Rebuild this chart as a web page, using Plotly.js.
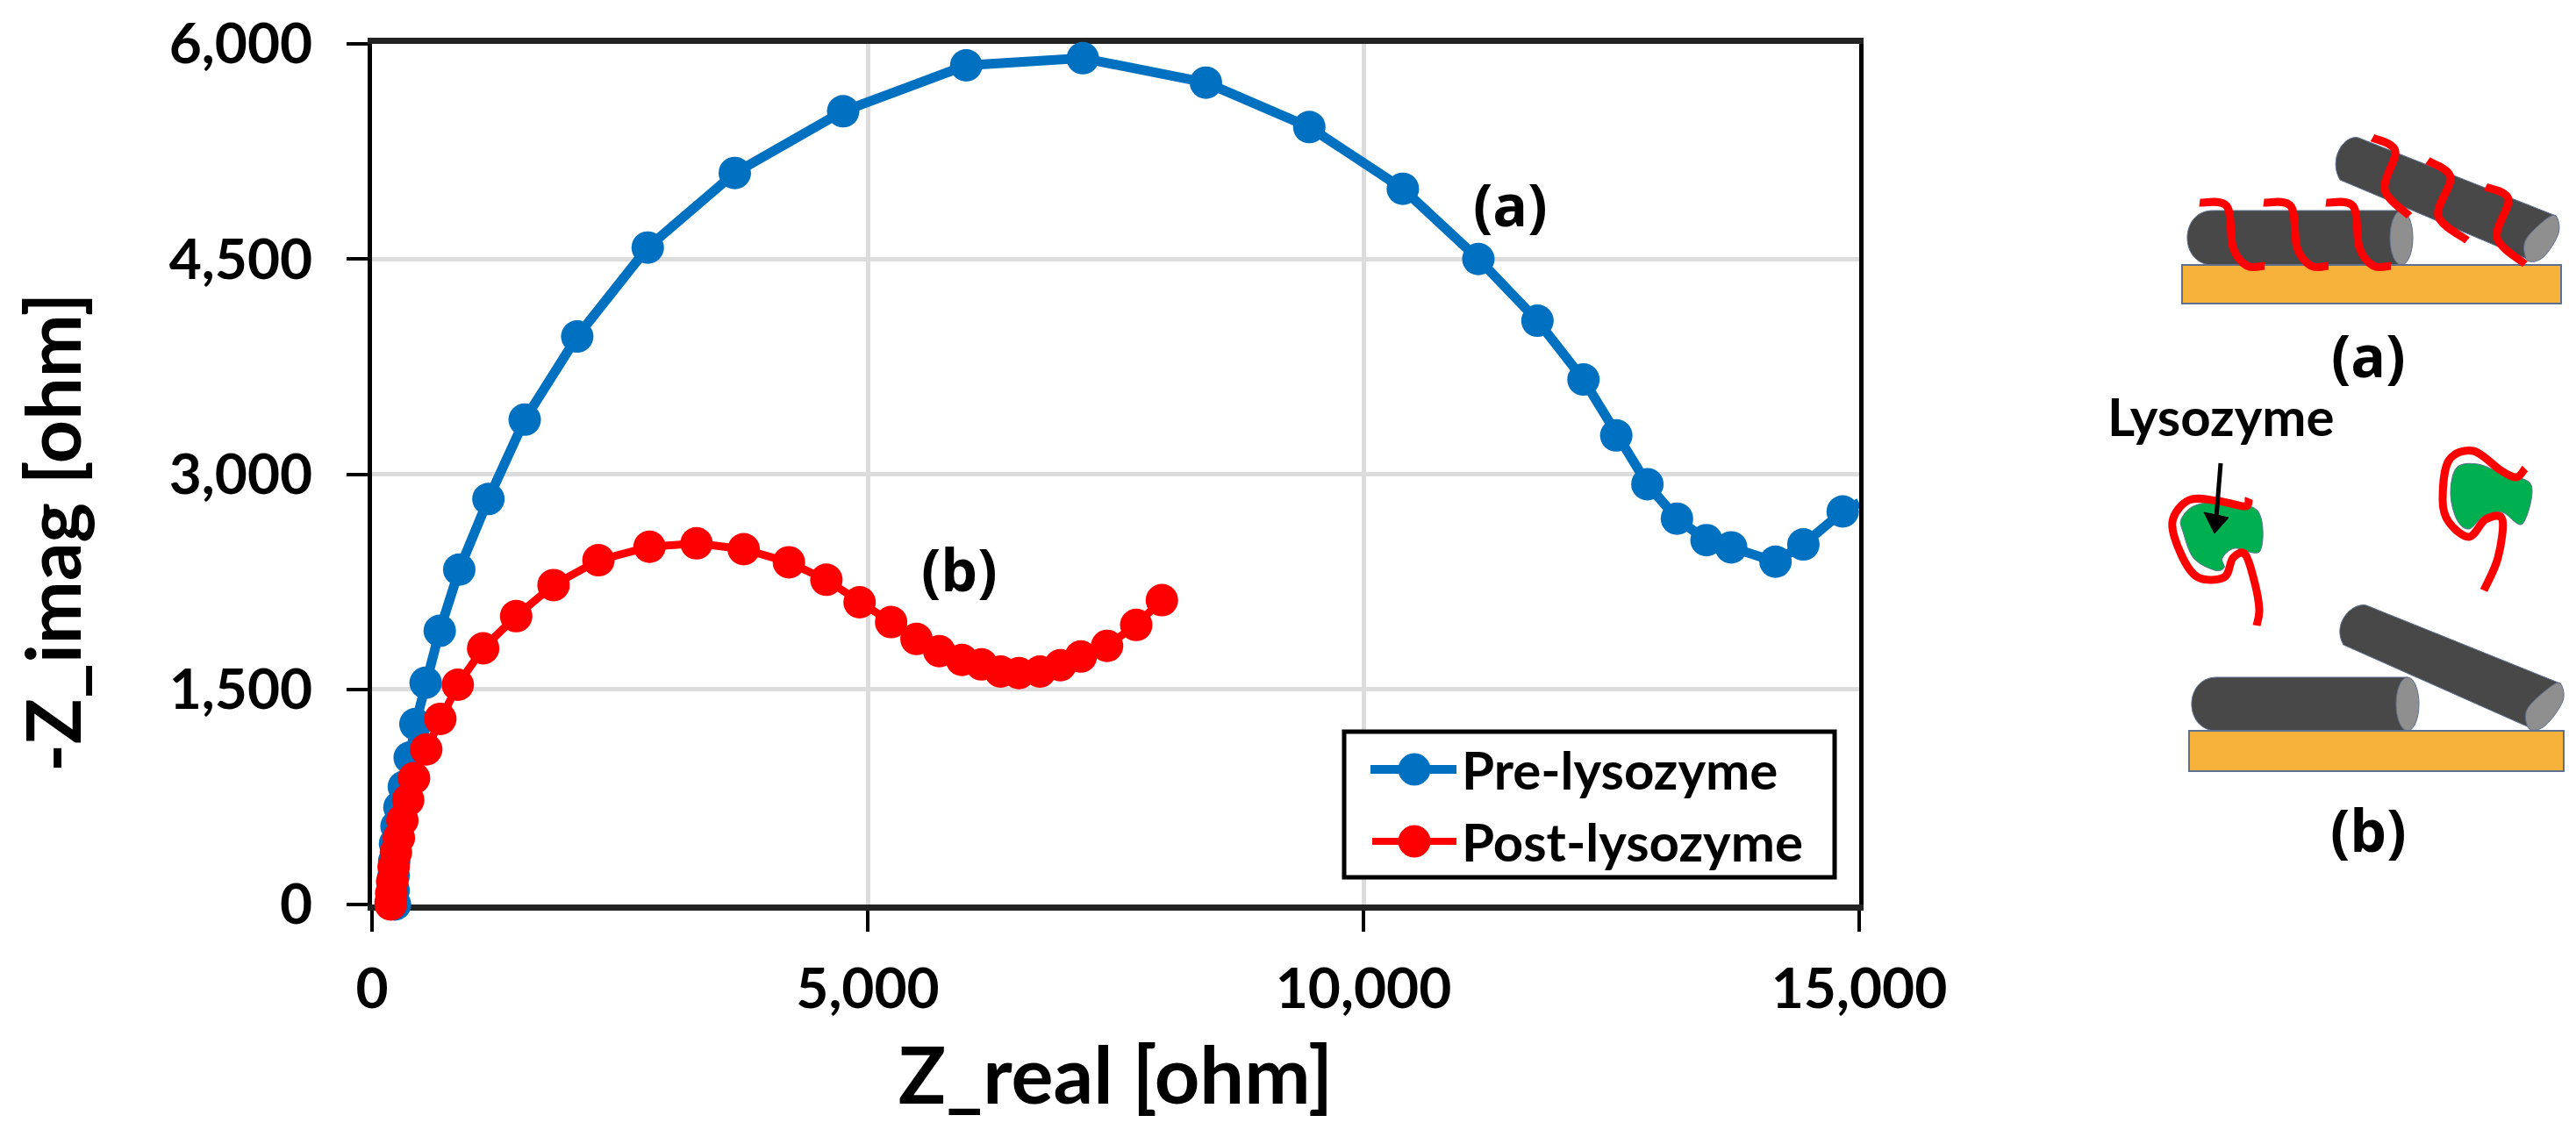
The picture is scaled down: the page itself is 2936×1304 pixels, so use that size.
<!DOCTYPE html>
<html>
<head>
<meta charset="utf-8">
<script src="https://cdn.plot.ly/plotly-3.0.1.min.js"></script>
<style>
  html, body { margin: 0; padding: 0; background: #fff; }
  #chart { width: 2936px; height: 1304px; }
</style>
</head>
<body>
<div id="chart"></div>
<script>
const preReal = [232, 218, 218, 218, 224, 232, 247, 277, 321, 380, 438, 541, 683, 880, 1174, 1540, 2070, 2781, 3659, 4752, 5993, 7169, 8411, 9454, 10397, 11159, 11755, 12219, 12550, 12864, 13162, 13460, 13709, 14156, 14437, 14834, 15000];
const preImag = [0, 17, 99, 200, 302, 424, 546, 678, 821, 1024, 1258, 1546, 1908, 2335, 2827, 3380, 3960, 4580, 5100, 5530, 5850, 5900, 5730, 5420, 4990, 4500, 4070, 3660, 3270, 2930, 2690, 2540, 2490, 2390, 2510, 2740, 2800];

const postReal = [188, 188, 194, 203, 218, 241, 271, 306, 365, 424, 547, 689, 865, 1121, 1454, 1831, 2284, 2799, 3273, 3749, 4205, 4583, 4918, 5236, 5492, 5722, 5951, 6148, 6340, 6525, 6737, 6943, 7149, 7414, 7708, 7967];
const postImag = [0, 17, 78, 160, 261, 363, 465, 587, 729, 881, 1081, 1294, 1532, 1786, 2010, 2227, 2400, 2494, 2518, 2477, 2386, 2264, 2107, 1969, 1851, 1766, 1705, 1674, 1624, 1613, 1624, 1668, 1729, 1803, 1949, 2122];

const xTicks = [0, 5000, 10000, 15000];
const yTicks = [0, 1500, 3000, 4500, 6000];

const BLUE = "#0070c0";
const RED = "#ff0000";
const DARK = "#484848";
const CAP = "#8f8f8f";
const GOLD = "#f7b23b";
const GREEN = "#00b050";
const EDGE = "#5f6f8f";
const FONT = "Lato, 'Open Sans', sans-serif";
const WIDE_FONT = "'Open Sans', Lato, sans-serif";

const W = 2936;
const H = 1304;

// smooth path through a list of pixel points (catmull-rom to bezier)
const smoothPath = (pts, closed) => {
  const n = pts.length;
  const at = (i) => (closed ? pts[(i + n) % n] : pts[Math.max(0, Math.min(n - 1, i))]);
  let d = `M ${pts[0][0]} ${pts[0][1]}`;
  const last = closed ? n : n - 1;
  for (let i = 0; i < last; i += 1) {
    const p0 = at(i - 1);
    const p1 = at(i);
    const p2 = at(i + 1);
    const p3 = at(i + 2);
    const c1x = p1[0] + (p2[0] - p0[0]) / 6;
    const c1y = p1[1] + (p2[1] - p0[1]) / 6;
    const c2x = p2[0] - (p3[0] - p1[0]) / 6;
    const c2y = p2[1] - (p3[1] - p1[1]) / 6;
    d += ` C ${c1x} ${c1y} ${c2x} ${c2y} ${p2[0]} ${p2[1]}`;
  }
  return closed ? d + " Z" : d;
};

const px = { xref: "x2", yref: "y2", layer: "above" };

const rectShape = (x0, y0, x1, y1, fill, color, width) => ({
  ...px, type: "rect", x0, y0, x1, y1, fillcolor: fill, line: { color, width }
});

const pathShape = (path, fill, color, width) => ({
  ...px, type: "path", path, fillcolor: fill, line: { color, width }
});

const redCurve = (pts) => pathShape(smoothPath(pts, false), "rgba(0,0,0,0)", RED, 9);

const flatCylinder = (x0, x1, y0, y1) => {
  const r = (y1 - y0) / 2;
  return [
    pathShape(`M ${x0 + r} ${y0} L ${x1} ${y0} L ${x1} ${y1} L ${x0 + r} ${y1} C ${x0 - r / 4} ${y1} ${x0 - r / 4} ${y0} ${x0 + r} ${y0} Z`, DARK, EDGE, 1),
    { ...px, type: "circle", x0: x1 - 13, x1: x1 + 13, y0, y1, fillcolor: CAP, line: { color: EDGE, width: 1 } }
  ];
};

const tiltedCylinder = (tl, tr, br, bl) => {
  const cap = smoothPath([
    [tr[0], tr[1]],
    [tr[0] + 3, tr[1] + 20],
    [br[0] + 14, br[1] - 4],
    [br[0] - 4, br[1]],
    [br[0] - 7, br[1] - 22],
    [tr[0] - 14, tr[1] + 6]
  ], true);
  return [
    pathShape(`M ${tl[0]} ${tl[1]} L ${tr[0]} ${tr[1]} L ${br[0]} ${br[1]} L ${bl[0]} ${bl[1]} C ${bl[0] - 14} ${bl[1] - 24} ${tl[0] - 16} ${tl[1] - 4} ${tl[0]} ${tl[1]} Z`, DARK, EDGE, 1),
    pathShape(cap, CAP, EDGE, 1)
  ];
};

const wigglesFlat = [0, 73, 144].map((dx) => redCurve([
  [2507 + dx, 231], [2538 + dx, 235], [2545 + dx, 282], [2561 + dx, 303], [2581 + dx, 303]
]));

const wigglesTilted = [
  [[2704, 157], [2730, 172], [2718, 216], [2746, 246]],
  [[2767, 183], [2793, 202], [2779, 246], [2812, 274]],
  [[2833, 213], [2859, 227], [2846, 271], [2878, 301]]
].map(redCurve);

const blobOne = [[2486, 592], [2500, 577], [2528, 573], [2573, 582], [2576, 628], [2547, 625], [2533, 636], [2535, 647], [2524, 650], [2500, 636], [2488, 606]];
const blobTwo = [[2793, 562], [2800, 533], [2824, 529], [2852, 540], [2885, 553], [2875, 597], [2852, 584], [2831, 588], [2814, 603], [2800, 592]];
const strandOne = [[2563, 568], [2559, 577], [2528, 571], [2495, 570], [2476, 595], [2486, 632], [2505, 658], [2535, 658], [2545, 636], [2559, 632], [2570, 665], [2575, 695], [2572, 713]];
const strandTwo = [[2878, 534], [2868, 544], [2850, 536], [2819, 514], [2791, 525], [2784, 570], [2791, 595], [2814, 612], [2833, 592], [2852, 592], [2847, 636], [2831, 673]];

const sketchShapes = [
  ...flatCylinder(2491, 2737, 240, 302),
  ...tiltedCylinder([2688, 157], [2913, 246], [2885, 297], [2667, 205]),
  rectShape(2487, 302, 2919, 346, GOLD, EDGE, 2),
  ...wigglesFlat,
  ...wigglesTilted,
  pathShape(smoothPath(blobOne, true), GREEN, EDGE, 1),
  pathShape(smoothPath(blobTwo, true), GREEN, EDGE, 1),
  redCurve(strandOne),
  redCurve(strandTwo),
  { ...px, type: "line", x0: 2531, y0: 528, x1: 2526, y1: 590, line: { color: "#000", width: 5 } },
  pathShape("M 2512 584 L 2540 590 L 2524 608 Z", "#000", "#000", 1),
  ...flatCylinder(2496, 2744, 772, 833),
  ...tiltedCylinder([2697, 690], [2918, 779], [2887, 831], [2671, 735]),
  rectShape(2495, 833, 2922, 879, GOLD, EDGE, 2)
];

const legendShapes = [
  rectShape(1532, 834, 2091, 1000, "#fff", "#000", 5),
  { ...px, type: "line", x0: 1562, y0: 877, x1: 1660, y1: 877, line: { color: BLUE, width: 10 } },
  { ...px, type: "circle", x0: 1594, y0: 859, x1: 1630, y1: 895, fillcolor: BLUE, line: { color: BLUE, width: 1 } },
  { ...px, type: "line", x0: 1564, y0: 959, x1: 1660, y1: 959, line: { color: RED, width: 8 } },
  { ...px, type: "circle", x0: 1594, y0: 941, x1: 1630, y1: 977, fillcolor: RED, line: { color: RED, width: 1 } }
];

const label = (text, x, y, size, opts) => ({
  text, x, y, xref: "x2", yref: "y2", xanchor: "center", yanchor: "middle",
  showarrow: false, font: { family: FONT, size, color: "#000", weight: 700 }, ...opts
});

const wide = (text, x, y) => ({
  ...label(text, x, y, 66),
  font: { family: WIDE_FONT, size: 66, color: "#000", weight: 700 }
});

const annotations = [
  label("-Z_imag [ohm]", 58, 607, 86, { textangle: -90 }),
  wide("(a)", 1721, 232),
  wide("(b)", 1093, 648),
  label("Pre-lysozyme", 1664, 877, 60, { xanchor: "left" }),
  label("Post-lysozyme", 1664, 959, 60, { xanchor: "left" }),
  wide("(a)", 2699, 404),
  label("Lysozyme", 2531, 474, 60),
  wide("(b)", 2699, 945)
];

const markerSizes = (xs) => xs.map((x) => (x >= 15000 ? 0 : 37));

const data = [
  {
    x: preReal, y: preImag, type: "scatter", mode: "lines+markers", name: "Pre-lysozyme",
    line: { color: BLUE, width: 11 },
    marker: { color: BLUE, size: markerSizes(preReal), opacity: 1, line: { width: 0 } },
    cliponaxis: false, showlegend: false
  },
  {
    x: postReal, y: postImag, type: "scatter", mode: "lines+markers", name: "Post-lysozyme",
    line: { color: RED, width: 9 },
    marker: { color: RED, size: markerSizes(postReal), opacity: 1, line: { width: 0 } },
    cliponaxis: false, showlegend: false
  }
];

const axisBase = {
  tickmode: "array",
  tickformat: ",",
  showgrid: true,
  gridcolor: "#dcdcdc",
  gridwidth: 5,
  zeroline: false,
  showline: true,
  mirror: true,
  linecolor: "#000",
  ticks: "outside",
  ticklen: 24,
  tickwidth: 4,
  tickcolor: "#000",
  layer: "below traces",
  tickfont: { family: FONT, size: 64, color: "#000", weight: 700 }
};

const layout = {
  width: W,
  height: H,
  margin: { t: 0, r: 0, b: 0, l: 0 },
  paper_bgcolor: "#fff",
  plot_bgcolor: "rgba(0,0,0,0)",
  showlegend: false,
  xaxis: {
    ...axisBase,
    domain: [424 / W, 2119 / W],
    range: [0, 15000],
    tickvals: xTicks,
    anchor: "y",
    linewidth: 7,
    linecolor: "#222",
    ticklabelstandoff: 10,
    title: { text: "Z_real [ohm]", standoff: 36, font: { family: FONT, size: 90, color: "#000", weight: 700 } }
  },
  yaxis: {
    ...axisBase,
    domain: [1 - 1031 / H, 1 - 50 / H],
    range: [0, 6000],
    tickvals: yTicks,
    anchor: "x",
    linewidth: 5,
    ticklabelstandoff: 26
  },
  xaxis2: { domain: [0, 1], range: [0, W], visible: false, anchor: "y2", fixedrange: true },
  yaxis2: { domain: [0, 1], range: [H, 0], visible: false, anchor: "x2", fixedrange: true },
  shapes: [...legendShapes, ...sketchShapes],
  annotations
};

Plotly.newPlot("chart", data, layout, { displayModeBar: false, staticPlot: true });
</script>
</body>
</html>
